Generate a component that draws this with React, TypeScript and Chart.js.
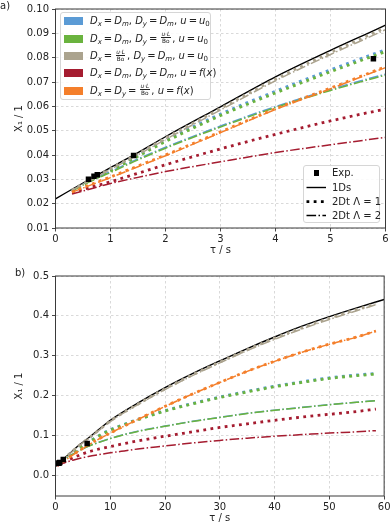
import React, { useEffect, useRef } from "react";
import { Chart, registerables } from "chart.js";

Chart.register(...registerables);

// ---------- data ----------
const TAU_EXP = [0.6, 0.7, 0.76, 1.42, 5.78];
const X_EXP = [0.030, 0.0313, 0.0319, 0.0398, 0.0796];

const TAU_1DS = [0, 0.5, 1, 1.5, 2, 3, 4, 5, 6, 8, 10, 15, 20, 25, 30, 35, 40, 45, 50, 55, 60];
const X_1DS = [0.022, 0.0285, 0.0348, 0.041, 0.0475, 0.0598, 0.0721, 0.083, 0.0934, 0.116, 0.138, 0.181, 0.22, 0.255, 0.287, 0.318, 0.347, 0.374, 0.398, 0.42, 0.441];

const TAU_2DT = [0.3, 0.6, 1, 1.5, 2, 3, 4, 5, 6, 8, 10, 12, 15, 20, 25, 30, 35, 40, 45, 50, 55, 58.5];

const BLUE_L1 = [0.0253, 0.0292, 0.0338, 0.0399, 0.046, 0.0568, 0.0662, 0.075, 0.0833, 0.1, 0.1142, 0.1252, 0.1403, 0.1623, 0.1803, 0.1963, 0.2104, 0.2235, 0.2345, 0.2446, 0.2516, 0.2556];
const GREEN_L1 = [0.0252, 0.029, 0.0335, 0.0395, 0.0455, 0.0562, 0.0655, 0.0742, 0.0825, 0.099, 0.113, 0.124, 0.139, 0.161, 0.179, 0.195, 0.209, 0.222, 0.233, 0.243, 0.25, 0.254];
const GRAY_L1 = [0.0256, 0.0294, 0.0344, 0.0405, 0.0469, 0.0591, 0.0712, 0.0821, 0.0924, 0.1145, 0.136, 0.154, 0.178, 0.217, 0.252, 0.284, 0.315, 0.344, 0.37, 0.394, 0.416, 0.43];
const RED_L1 = [0.0245, 0.0265, 0.029, 0.0325, 0.036, 0.0425, 0.0485, 0.054, 0.0588, 0.066, 0.072, 0.078, 0.086, 0.098, 0.109, 0.12, 0.129, 0.138, 0.146, 0.153, 0.16, 0.166];
const ORANGE_L1 = [0.0248, 0.0275, 0.031, 0.0355, 0.04, 0.0495, 0.059, 0.0675, 0.0762, 0.092, 0.106, 0.12, 0.14, 0.173, 0.204, 0.233, 0.261, 0.286, 0.309, 0.329, 0.347, 0.362];

const BLUE_L2 = [0.0253, 0.0291, 0.0332, 0.0384, 0.0432, 0.0519, 0.0599, 0.0669, 0.0732, 0.0834, 0.0924, 0.1004, 0.1104, 0.1234, 0.1354, 0.1454, 0.1554, 0.1634, 0.1704, 0.1774, 0.1834, 0.1874];
const GREEN_L2 = [0.0252, 0.0288, 0.0328, 0.038, 0.0428, 0.0515, 0.0595, 0.0665, 0.0728, 0.083, 0.092, 0.1, 0.11, 0.123, 0.135, 0.145, 0.155, 0.163, 0.17, 0.177, 0.183, 0.187];
const GRAY_L2 = [0.0255, 0.0292, 0.0341, 0.0401, 0.0464, 0.0585, 0.0705, 0.0813, 0.0915, 0.1135, 0.1345, 0.153, 0.177, 0.215, 0.25, 0.282, 0.313, 0.341, 0.367, 0.391, 0.413, 0.428];
const RED_L2 = [0.024, 0.0258, 0.0283, 0.0308, 0.0332, 0.0372, 0.041, 0.0442, 0.0472, 0.052, 0.0565, 0.06, 0.066, 0.0735, 0.081, 0.0875, 0.093, 0.098, 0.102, 0.106, 0.109, 0.112];
const ORANGE_L2 = [0.0247, 0.0273, 0.0307, 0.0352, 0.0397, 0.0492, 0.0587, 0.0672, 0.0759, 0.0917, 0.1057, 0.1197, 0.1397, 0.1727, 0.2037, 0.2327, 0.2607, 0.2857, 0.3087, 0.3287, 0.3467, 0.3617];

const X_TICKS_A = [0, 1, 2, 3, 4, 5, 6];
const Y_TICKS_A = [0.01, 0.02, 0.03, 0.04, 0.05, 0.06, 0.07, 0.08, 0.09, 0.10];
const X_TICKS_B = [0, 10, 20, 30, 40, 50, 60];
const Y_TICKS_B = [0.0, 0.1, 0.2, 0.3, 0.4, 0.5];

const C_BLUE = "#5b9bd5";
const C_GREEN = "#6ab33e";
const C_GRAY = "#aba38e";
const C_RED = "#a51c30";
const C_ORANGE = "#f47f2b";

const FONT = "'DejaVu Sans', sans-serif";
const FS = 10;
const DOT = [2.8, 4.4];
const DASHDOT = [9.6, 2.4, 1.5, 2.4];

const pts = (xs: number[], ys: number[]) => xs.map((x, i) => ({ x, y: ys[i] }));

function buildDatasets() {
  const line = (data: number[], color: string, dotted: boolean, order: number) => ({
    data: pts(TAU_2DT, data),
    borderColor: color,
    borderWidth: dotted ? 2.8 : 1.5,
    borderDash: dotted ? DOT : DASHDOT,
    borderCapStyle: "butt",
    pointRadius: 0,
    fill: false,
    cubicInterpolationMode: "monotone",
    clip: 0,
    order,
  });
  return [
    {
      data: pts(TAU_1DS, X_1DS),
      borderColor: "#000",
      borderWidth: 1.4,
      pointRadius: 0,
      fill: false,
      cubicInterpolationMode: "monotone",
      clip: 0,
      order: 30,
    },
    line(BLUE_L1, C_BLUE, true, 19),
    line(BLUE_L2, C_BLUE, false, 18),
    line(GREEN_L1, C_GREEN, true, 17),
    line(GREEN_L2, C_GREEN, false, 16),
    line(GRAY_L1, C_GRAY, true, 15),
    line(GRAY_L2, C_GRAY, false, 14),
    line(RED_L1, C_RED, true, 13),
    line(RED_L2, C_RED, false, 12),
    line(ORANGE_L1, C_ORANGE, true, 11),
    line(ORANGE_L2, C_ORANGE, false, 10),
    {
      data: pts(TAU_EXP, X_EXP),
      showLine: false,
      pointStyle: "rect",
      pointRadius: 3.9,
      pointBackgroundColor: "#000",
      pointBorderWidth: 0,
      clip: 0,
      order: 0,
    },
  ];
}

const framePlugin = {
  id: "frame",
  afterDatasetsDraw(chart: any) {
    const { ctx, chartArea: a } = chart;
    ctx.save();
    ctx.lineWidth = 1;
    ctx.strokeStyle = "#3a3a3a";
    ctx.strokeRect(a.left, a.top, a.right - a.left, a.bottom - a.top);
    ctx.restore();
  },
};

type Cfg = {
  xMin: number; xMax: number; yMin: number; yMax: number;
  xTicks: number[]; yTicks: number[]; yDec: number;
  padTop: number; padRight: number; xAxisH: number; xTitlePadBottom: number;
};

function makeConfig(c: Cfg): any {
  const tickFont = { family: FONT, size: FS };
  return {
    type: "line",
    data: { datasets: buildDatasets() },
    plugins: [framePlugin],
    options: {
      animation: false,
      responsive: false,
      events: [],
      layout: { padding: { top: c.padTop, right: c.padRight, left: 0, bottom: 0 } },
      plugins: { legend: { display: false }, tooltip: { enabled: false }, title: { display: false } },
      scales: {
        x: {
          type: "linear",
          min: c.xMin,
          max: c.xMax,
          afterBuildTicks: (s: any) => { s.ticks = c.xTicks.map((v) => ({ value: v })); },
          afterFit: (s: any) => { s.height = c.xAxisH; },
          ticks: { callback: (v: any) => String(v), font: tickFont, color: "#222", padding: 1.5, maxRotation: 0, autoSkip: false },
          grid: { color: "#cfcfcf", lineWidth: 0.8, tickLength: 3.5, tickColor: "#333", tickWidth: 0.9 },
          border: { display: false, dash: [2.5, 2.5] },
          title: { display: true, text: "τ / s", font: { family: FONT, size: FS }, color: "#222", padding: { top: 0, bottom: c.xTitlePadBottom } },
        },
        y: {
          type: "linear",
          min: c.yMin,
          max: c.yMax,
          afterBuildTicks: (s: any) => { s.ticks = c.yTicks.map((v) => ({ value: v })); },
          afterFit: (s: any) => { s.width = 55.5; },
          ticks: { callback: (v: any) => Number(v).toFixed(c.yDec), font: tickFont, color: "#222", padding: 3, autoSkip: false },
          grid: { color: "#cfcfcf", lineWidth: 0.8, tickLength: 3.5, tickColor: "#333", tickWidth: 0.9 },
          border: { display: false, dash: [2.5, 2.5] },
          title: { display: true, text: "X₁ / 1", font: { family: FONT, size: FS }, color: "#222", padding: { top: 13, bottom: 0 } },
        },
      },
    },
  };
}

function ChartPanel({ cfg, width, height }: { cfg: Cfg; width: number; height: number }) {
  const ref = useRef<HTMLCanvasElement | null>(null);
  useEffect(() => {
    if (!ref.current) return;
    const chart = new Chart(ref.current, makeConfig(cfg));
    return () => chart.destroy();
  }, []);
  return <canvas ref={ref} width={width} height={height} style={{ display: "block", width, height }} />;
}

const M = ({ children }: { children: React.ReactNode }) => <span style={{ fontStyle: "italic" }}>{children}</span>;
const Sub = ({ children, italic = true }: { children: React.ReactNode; italic?: boolean }) => (
  <sub style={{ fontSize: 7, verticalAlign: "-2px", lineHeight: 0, fontStyle: italic ? "italic" : "normal" }}>{children}</sub>
);
const Eq = () => <span style={{ margin: "0 2px" }}>=</span>;
const Frac = () => (
  <span style={{ display: "inline-flex", flexDirection: "column", alignItems: "center", verticalAlign: "middle", fontSize: 5.8, lineHeight: "6px", margin: "0 1px", position: "relative", top: -1 }}>
    <span style={{ padding: "0 1px" }}><M>u</M>·<M>L</M></span>
    <span style={{ borderTop: "0.7px solid #222", padding: "0 1px" }}>Bo</span>
  </span>
);

const LEGEND_ROWS: { color: string; label: React.ReactNode }[] = [
  { color: C_BLUE, label: <><M>D</M><Sub>x</Sub><Eq /><M>D</M><Sub>m</Sub>, <M>D</M><Sub>y</Sub><Eq /><M>D</M><Sub>m</Sub>, <M>u</M><Eq /><M>u</M><Sub italic={false}>0</Sub></> },
  { color: C_GREEN, label: <><M>D</M><Sub>x</Sub><Eq /><M>D</M><Sub>m</Sub>, <M>D</M><Sub>y</Sub><Eq /><Frac />, <M>u</M><Eq /><M>u</M><Sub italic={false}>0</Sub></> },
  { color: C_GRAY, label: <><M>D</M><Sub>x</Sub><Eq /><Frac />, <M>D</M><Sub>y</Sub><Eq /><M>D</M><Sub>m</Sub>, <M>u</M><Eq /><M>u</M><Sub italic={false}>0</Sub></> },
  { color: C_RED, label: <><M>D</M><Sub>x</Sub><Eq /><M>D</M><Sub>m</Sub>, <M>D</M><Sub>y</Sub><Eq /><M>D</M><Sub>m</Sub>, <M>u</M><Eq /><M>f</M>(<M>x</M>)</> },
  { color: C_ORANGE, label: <><M>D</M><Sub>x</Sub><Eq /><M>D</M><Sub>y</Sub><Eq /><Frac />, <M>u</M><Eq /><M>f</M>(<M>x</M>)</> },
];
const LEGEND_A_Y = [21.3, 38.8, 56.3, 73, 90.5];

const MODEL_ROWS = ["Exp.", "1Ds", "2Dt Λ = 1", "2Dt Λ = 2"];
const LEGEND_B_Y = [173.3, 187.5, 201.7, 215.5];

export default function App() {
  const cfgA: Cfg = { xMin: 0, xMax: 6, yMin: 0.01, yMax: 0.10, xTicks: X_TICKS_A, yTicks: Y_TICKS_A, yDec: 2, padTop: 9, padRight: 6.5, xAxisH: 34, xTitlePadBottom: 5.5 };
  const cfgB: Cfg = { xMin: 0, xMax: 60, yMin: -0.052, yMax: 0.5, xTicks: X_TICKS_B, yTicks: Y_TICKS_B, yDec: 1, padTop: 14, padRight: 6.3, xAxisH: 29, xTitlePadBottom: 0.5 };
  return (
    <div style={{ position: "fixed", left: 0, top: 0, width: 392, height: 525, background: "#fff", fontFamily: FONT, color: "#222", overflow: "hidden" }}>
      <div style={{ position: "absolute", left: 0, top: 0 }}>
        <ChartPanel cfg={cfgA} width={392} height={262} />
      </div>
      <div style={{ position: "absolute", left: 0, top: 262 }}>
        <ChartPanel cfg={cfgB} width={392} height={263} />
      </div>
      <div style={{ position: "absolute", left: 0, top: 0, fontSize: FS, lineHeight: "12px" }}>a)</div>
      <div style={{ position: "absolute", left: 15, top: 267, fontSize: FS, lineHeight: "12px" }}>b)</div>

      {/* legend a: colours */}
      <div style={{ position: "absolute", left: 60, top: 12, width: 151, height: 88, boxSizing: "border-box", background: "rgba(255,255,255,0.85)", border: "1px solid #d6d6d6", borderRadius: 3 }} />
      {LEGEND_ROWS.map((r, i) => (
        <React.Fragment key={i}>
          <div style={{ position: "absolute", left: 64, top: LEGEND_A_Y[i] - 4, width: 19, height: 8, background: r.color }} />
          <div style={{ position: "absolute", left: 90, top: LEGEND_A_Y[i] - 7, height: 14, lineHeight: "14px", fontSize: FS, whiteSpace: "nowrap", color: "#222" }}>{r.label}</div>
        </React.Fragment>
      ))}

      {/* legend b: models */}
      <div style={{ position: "absolute", left: 303, top: 165, width: 77, height: 58, boxSizing: "border-box", background: "rgba(255,255,255,0.85)", border: "1px solid #d6d6d6", borderRadius: 3 }} />
      <div style={{ position: "absolute", left: 313.5, top: LEGEND_B_Y[0] - 2.9, width: 5.8, height: 5.8, background: "#000" }} />
      <svg style={{ position: "absolute", left: 306, top: 180, overflow: "visible" }} width={22} height={40}>
        <line x1={0.5} x2={20} y1={LEGEND_B_Y[1] - 180} y2={LEGEND_B_Y[1] - 180} stroke="#000" strokeWidth={1.4} />
        <line x1={0.5} x2={20} y1={LEGEND_B_Y[2] - 180} y2={LEGEND_B_Y[2] - 180} stroke="#000" strokeWidth={2.8} strokeDasharray={DOT.join(",")} />
        <line x1={0.5} x2={20} y1={LEGEND_B_Y[3] - 180} y2={LEGEND_B_Y[3] - 180} stroke="#000" strokeWidth={1.5} strokeDasharray={DASHDOT.join(",")} />
      </svg>
      {MODEL_ROWS.map((t, i) => (
        <div key={t} style={{ position: "absolute", left: 332, top: LEGEND_B_Y[i] - 7, height: 14, lineHeight: "14px", fontSize: FS, whiteSpace: "nowrap" }}>{t}</div>
      ))}
    </div>
  );
}
